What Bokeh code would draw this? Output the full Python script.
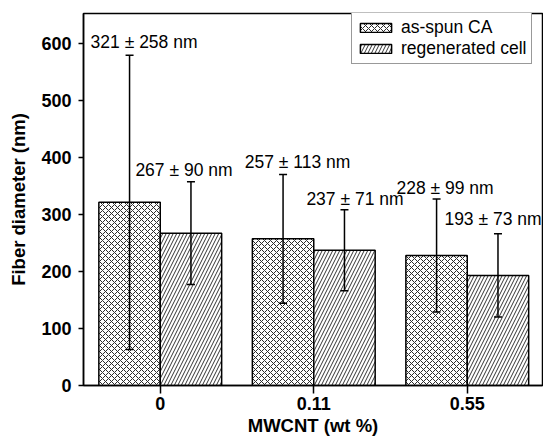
from bokeh.plotting import figure
from bokeh.models import (ColumnDataSource, FixedTicker, Whisker, TeeHead, Legend,
                          LegendItem, Range1d, Label)
from bokeh.embed import file_html
from bokeh.resources import INLINE

# ---- data ----
categories = ["0", "0.11", "0.55"]
series_names = ["as-spun CA", "regenerated cell"]
as_spun_mean = [321, 257, 228]
as_spun_sd = [258, 113, 99]
regen_mean = [267, 237, 193]
regen_sd = [90, 71, 73]
y_ticks = [0, 100, 200, 300, 400, 500, 600]

# ---- style ----
FONT = "Liberation Sans"
BAR_W = 0.4
label_dx_a = [14.5, 14.5, 8.5]
label_dx_b = [-7, 10.5, -5]
label_dy_a = [13, 12, 11]
label_dy_b = [12, 11, 15]

idx = list(range(len(categories)))

p = figure(width=543, height=440, x_range=Range1d(-0.5, 2.49), y_range=Range1d(0, 652),
           output_backend="svg", toolbar_location=None,
           min_border_left=83, min_border_right=1, min_border_top=13, min_border_bottom=55)

def make_src(means, sds, shift):
    return ColumnDataSource(dict(
        x=[i + shift for i in idx],
        top=means,
        upper=[m + s for m, s in zip(means, sds)],
        lower=[m - s for m, s in zip(means, sds)],
    ))

src_a = make_src(as_spun_mean, as_spun_sd, -BAR_W / 2)
src_b = make_src(regen_mean, regen_sd, BAR_W / 2)

r_a = p.vbar(x="x", top="top", bottom=0, width=BAR_W, source=src_a,
             fill_color="white", line_color="black", line_width=1.5,
             hatch_pattern="x", hatch_color="#2a2a2a", hatch_scale=6, hatch_weight=1.0)
r_b = p.vbar(x="x", top="top", bottom=0, width=BAR_W, source=src_b,
             fill_color="white", line_color="black", line_width=1.5,
             hatch_pattern="/", hatch_color="#333333", hatch_scale=7, hatch_weight=1.0)

for src in (src_a, src_b):
    p.add_layout(Whisker(source=src, base="x", upper="upper", lower="lower",
                         line_color="black", line_width=1.5, level="overlay",
                         upper_head=TeeHead(size=8, line_width=1.5, line_color="black"),
                         lower_head=TeeHead(size=8, line_width=1.5, line_color="black")))

for means, sds, shift, dxs, dys in ((as_spun_mean, as_spun_sd, -BAR_W / 2, label_dx_a, label_dy_a),
                                    (regen_mean, regen_sd, BAR_W / 2, label_dx_b, label_dy_b)):
    for i, (m, s) in enumerate(zip(means, sds)):
        p.add_layout(Label(x=i + shift, y=m + s, x_offset=dxs[i], y_offset=dys[i],
                           text=f"{m} \u00b1 {s} nm", text_align="center",
                           text_baseline="middle", text_font=FONT,
                           text_font_size="17.5px", text_color="black"))

legend = Legend(items=[LegendItem(label=series_names[0], renderers=[r_a]),
                       LegendItem(label=series_names[1], renderers=[r_b])],
                location=(268, 321), orientation="vertical",
                label_text_font=FONT, label_text_font_size="17.5px", label_text_color="black",
                glyph_width=39, glyph_height=11, label_height=19, label_standoff=6,
                spacing=0, padding=4, margin=0,
                border_line_color="#333333", border_line_width=1,
                background_fill_color="white", background_fill_alpha=1)
p.add_layout(legend, "center")

# axes
p.xaxis.ticker = FixedTicker(ticks=idx)
p.xaxis.major_label_overrides = {i: c for i, c in zip(idx, categories)}
p.xaxis.minor_tick_line_color = None
p.xaxis.major_tick_out = 8
p.xaxis.major_tick_in = 0
p.xaxis.axis_label = "MWCNT (wt %)"
p.xaxis.major_label_standoff = 3
p.xaxis.axis_label_standoff = 2

minor = [(a + b) / 2 for a, b in zip(y_ticks[:-1], y_ticks[1:])]
p.yaxis.ticker = FixedTicker(ticks=y_ticks, minor_ticks=minor)
p.yaxis.major_tick_out = 5
p.yaxis.major_tick_in = 0
p.yaxis.minor_tick_out = 3
p.yaxis.minor_tick_in = 0
p.yaxis.axis_label = "Fiber diameter (nm)"
p.yaxis.major_label_standoff = 7
p.yaxis.axis_label_standoff = 9

for ax in (p.xaxis, p.yaxis):
    ax.axis_line_color = "black"
    ax.axis_line_width = 1.5
    ax.major_tick_line_color = "black"
    ax.major_tick_line_width = 1.5
    ax.minor_tick_line_color = "black" if ax is p.yaxis else None
    ax.minor_tick_line_width = 1.5
    ax.major_label_text_font = FONT
    ax.major_label_text_font_style = "bold"
    ax.major_label_text_font_size = "18px"
    ax.major_label_text_color = "black"
    ax.axis_label_text_font = FONT
    ax.axis_label_text_font_style = "bold"
    ax.axis_label_text_font_size = "18.5px"
    ax.axis_label_text_color = "black"

p.xgrid.grid_line_color = None
p.ygrid.grid_line_color = None
p.outline_line_color = "black"
p.outline_line_width = 1.5
p.outline_line_alpha = 1

open("out.html", "w").write(file_html(p, INLINE))
